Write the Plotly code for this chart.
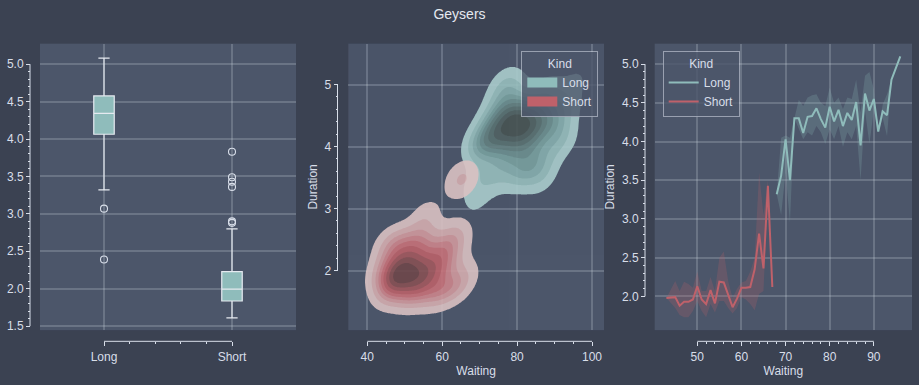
import math
import numpy as np
import plotly.graph_objects as go

# ---------------- data ----------------
kinds = ["Long", "Short"]
kind_pos = [0, 1]
box_q1 = [4.064, 1.836]
box_median = [4.342, 1.995]
box_q3 = [4.576, 2.228]
box_lowerfence = [3.32, 1.61]
box_upperfence = [5.08, 2.80]
long_outliers = [3.07, 2.39]
short_outliers = [3.83, 3.49, 3.43, 3.36, 2.90, 2.88]

# estimated eruptions (waiting -> durations) used for the density panel
short_kde_waiting = [43, 45, 46, 47, 48, 49, 50, 51, 52, 53, 54, 55, 56, 57,
                     58, 59, 60, 61, 62, 63, 64, 65, 66, 67]
short_kde_durations = [
    [1.97], [1.70, 1.83, 2.00, 2.15, 2.45], [1.70, 1.83, 1.90, 2.35],
    [1.65, 1.80, 1.93, 2.00, 2.17, 2.40], [1.67, 1.87, 1.92, 2.00, 2.12, 2.50],
    [1.75, 1.93, 2.08, 2.40], [1.70, 1.95, 2.10, 2.25, 2.45],
    [1.62, 1.80, 1.97, 2.10, 2.30], [1.60, 1.80, 1.90, 2.00, 2.20, 2.45],
    [1.65, 1.87, 2.07, 2.33, 2.55], [1.65, 1.83, 1.92, 2.05, 2.30],
    [1.72, 1.95, 2.15, 2.50, 2.88], [1.70, 1.97, 2.20, 2.60, 2.90],
    [1.65, 1.98, 2.13, 2.40], [1.62, 1.87, 2.00], [1.65, 1.90, 2.08, 2.30],
    [1.70, 2.10, 2.35], [1.68, 2.15, 2.40], [1.72, 2.20, 2.45],
    [1.75, 2.45, 2.65], [1.80, 2.10, 3.45], [1.75, 2.55, 3.55], [3.37, 3.50], [1.95]]
long_kde_waiting = [68, 69, 70, 71, 72, 73, 74, 75, 76, 77, 78, 79, 80, 81, 82,
                    83, 84, 85, 86, 87, 88, 89, 90, 91, 92, 93, 94, 96]
long_kde_durations = [
    [3.32], [3.07, 4.05], [3.60, 3.95, 4.10], [2.38, 4.05, 4.08], [3.50, 4.00, 4.30],
    [3.40, 4.15, 4.30, 4.45], [4.00, 4.10, 4.23, 4.40], [3.75, 4.10, 4.30, 4.55, 4.80],
    [3.60, 4.05, 4.20, 4.35, 4.60, 4.90], [4.00, 4.20, 4.45, 4.63, 5.05],
    [3.70, 4.10, 4.30, 4.40, 4.47, 4.60, 5.00], [3.50, 3.92, 4.20, 4.43, 4.50, 4.90],
    [3.80, 4.13, 4.20, 4.30, 4.45, 4.50, 4.60, 4.77], [3.55, 4.00, 4.10, 4.30, 4.48],
    [3.60, 4.10, 4.20, 4.40, 4.50, 4.63], [3.70, 3.90, 4.20, 4.40, 4.50],
    [3.60, 3.80, 4.10, 4.30, 4.40, 4.60], [3.70, 4.00, 4.30, 4.53],
    [3.50, 4.20, 4.40, 4.50, 4.83], [3.50, 4.40], [3.75, 4.30, 4.42, 4.60, 4.85],
    [3.95, 4.85], [4.20, 4.40, 4.70], [4.13], [4.30, 4.48], [4.07, 4.60], [4.80], [5.10]]

# mean duration per waiting time with confidence band
short_line_x = [43, 45, 46, 47, 48, 49, 50, 51, 52, 53, 54, 55, 56, 57, 58, 59,
                60, 61, 62, 63, 64, 65, 66, 67]
short_line_mean = [1.98, 1.99, 1.88, 1.93, 1.93, 1.96, 2.13, 1.96, 1.90, 2.08,
                   1.91, 2.19, 2.18, 2.03, 1.86, 1.97, 2.11, 2.11, 2.12, 2.35,
                   2.81, 2.36, 3.43, 2.12]
short_line_lo = [1.98, 1.85, 1.76, 1.73, 1.73, 1.81, 1.94, 1.81, 1.73, 1.90,
                 1.79, 1.94, 1.94, 1.85, 1.78, 1.85, 1.99, 1.96, 1.90, 1.82,
                 2.03, 2.07, 3.37, 2.12]
short_line_hi = [1.98, 2.20, 2.07, 2.19, 2.16, 2.11, 2.32, 2.07, 2.07, 2.25,
                 2.07, 2.50, 2.58, 2.20, 1.98, 2.10, 2.18, 2.20, 2.32, 2.50,
                 3.60, 3.05, 3.50, 2.12]
long_line_x = [68, 69, 70, 71, 72, 73, 74, 75, 76, 77, 78, 79, 80, 81, 82, 83,
               84, 85, 86, 87, 88, 89, 90, 91, 92, 93, 94, 96]
long_line_mean = [3.32, 3.56, 4.03, 3.50, 4.30, 4.30, 4.11, 4.32, 4.33, 4.43,
                  4.29, 4.18, 4.45, 4.26, 4.41, 4.20, 4.37, 4.28, 4.51, 3.95,
                  4.62, 4.40, 4.55, 4.13, 4.39, 4.34, 4.80, 5.10]
long_line_lo = [3.32, 3.05, 3.60, 2.95, 4.30, 4.16, 4.03, 4.12, 4.08, 4.20,
                4.12, 3.97, 4.16, 4.03, 4.20, 3.93, 4.12, 4.03, 4.20, 3.50,
                4.40, 3.97, 4.40, 4.13, 4.30, 4.07, 4.80, 5.10]
long_line_hi = [3.32, 4.05, 4.08, 4.05, 4.30, 4.54, 4.46, 4.57, 4.60, 4.61,
                4.50, 4.46, 4.70, 4.50, 4.57, 4.42, 4.57, 4.55, 4.80, 4.38,
                4.85, 4.90, 4.68, 4.13, 4.48, 4.61, 4.80, 5.10]

# ---------------- style ----------------
PAPER = "#3b4252"
PLOTBG = "#4c566a"
TXT = "#d8dee9"
SPINE = "#d8dee9"
GRID = "rgba(216,222,233,0.22)"
C_LONG = "#8fbcbb"
C_SHORT = "#bf616a"
FONT = "Liberation Sans, Arial, sans-serif"
W, H = 919, 385

# ---------------- HUSL helpers (seaborn-like sequential cmap) ----------------
M = [[3.2406, -1.5372, -0.4986], [-0.9689, 1.8758, 0.0415], [0.0557, -0.2040, 1.0570]]
MINV = [[0.4124, 0.3576, 0.1805], [0.2126, 0.7152, 0.0722], [0.0193, 0.1192, 0.9505]]
REFU, REFV, KAPPA, EPS = 0.19784, 0.46834, 903.3, 0.008856


def _maxc(L, Hh):
    sub1 = (L + 16) ** 3 / 1560896
    sub2 = sub1 if sub1 > EPS else L / KAPPA
    h = math.radians(Hh)
    best = float("inf")
    for m1, m2, m3 in M:
        for t in (0, 1):
            top1 = (284517 * m1 - 94839 * m3) * sub2
            top2 = (838422 * m3 + 769860 * m2 + 731718 * m1) * L * sub2 - 769860 * t * L
            bot = (632260 * m3 - 126452 * m2) * sub2 + 126452 * t
            slope, icpt = top1 / bot, top2 / bot
            d = math.sin(h) - slope * math.cos(h)
            if d != 0:
                ln = icpt / d
                if ln >= 0:
                    best = min(best, ln)
    return best


def husl_to_rgb(Hh, S, L):
    if L > 99.9999:
        return (1, 1, 1)
    if L < 1e-5:
        return (0, 0, 0)
    C = _maxc(L, Hh) / 100 * S
    h = math.radians(Hh)
    U, V = C * math.cos(h), C * math.sin(h)
    vu = U / (13 * L) + REFU
    vv = V / (13 * L) + REFV
    Y = ((L + 16) / 116) ** 3 if L > 8 else L / KAPPA
    X = 0 - (9 * Y * vu) / ((vu - 4) * vv - vu * vv)
    Z = (9 * Y - 15 * vv * Y - vv * X) / (3 * vv)
    out = []
    for row in M:
        c = row[0] * X + row[1] * Y + row[2] * Z
        c = 12.92 * c if c <= 0.0031308 else 1.055 * c ** (1 / 2.4) - 0.055
        out.append(min(max(c, 0), 1))
    return out


def rgb_to_husl(r, g, b):
    lin = [c / 12.92 if c <= 0.04045 else ((c + 0.055) / 1.055) ** 2.4 for c in (r, g, b)]
    X, Y, Z = [sum(MINV[i][j] * lin[j] for j in range(3)) for i in range(3)]
    L = 116 * Y ** (1 / 3) - 16 if Y > EPS else Y * KAPPA
    den = X + 15 * Y + 3 * Z
    U = 13 * L * (4 * X / den - REFU)
    V = 13 * L * (9 * Y / den - REFV)
    C = math.hypot(U, V)
    Hh = math.degrees(math.atan2(V, U)) % 360
    return Hh, C / _maxc(L, Hh) * 100, L


def seq_colors(hexc, n):
    r, g, b = [int(hexc[i:i + 2], 16) / 255 for i in (1, 3, 5)]
    h, s, _ = rgb_to_husl(r, g, b)
    xx = np.linspace(-1, 1, int(1.15 * 256))[:256]
    lum = np.linspace(35, 80, 256)
    cols = []
    for t in np.linspace(0, 1, n):
        k = 255 - int(round(t * 255))
        c = husl_to_rgb(h, s * math.cos(xx[k]), lum[k])
        cols.append("rgb(%d,%d,%d)" % tuple(int(round(v * 255)) for v in c))
    return cols


# ---------------- KDE ----------------
def flatten(ws, ds):
    xs, ys = [], []
    for w, d in zip(ws, ds):
        for v in d:
            xs.append(w)
            ys.append(v)
    return np.array(xs, float), np.array(ys, float)


def kde2d(xs, ys, gx, gy):
    n = len(xs)
    cov = np.cov(np.vstack([xs, ys]))
    kc = cov * n ** (-2 / 6)
    inv = np.linalg.inv(kc)
    norm = 1 / (2 * np.pi * np.sqrt(np.linalg.det(kc))) / n
    X, Y = np.meshgrid(gx, gy)
    dx = X[..., None] - xs
    dy = Y[..., None] - ys
    q = inv[0, 0] * dx * dx + 2 * inv[0, 1] * dx * dy + inv[1, 1] * dy * dy
    return norm * np.exp(-0.5 * q).sum(-1)


x2_range = [34.93, 103.2]
y2_range = [1.04, 5.66]
gx = np.linspace(x2_range[0], x2_range[1], 220)
gy = np.linspace(y2_range[0], y2_range[1], 220)
sx, sy = flatten(short_kde_waiting, short_kde_durations)
lx, ly = flatten(long_kde_waiting, long_kde_durations)
ntot = len(sx) + len(lx)
d_short = kde2d(sx, sy, gx, gy) * len(sx) / ntot
d_long = kde2d(lx, ly, gx, gy) * len(lx) / ntot

iso = np.linspace(0.05, 1, 10)
vals = np.sort(np.concatenate([d_short.ravel(), d_long.ravel()]))[::-1]
cum = np.cumsum(vals) / vals.sum()
levels = vals[np.clip(np.searchsorted(cum, 1 - iso), 0, len(vals) - 1)]


def map_levels(d):
    z = np.interp(d, levels, np.arange(len(levels)))
    low = d < levels[0]
    z[low] = d[low] / levels[0] - 1
    return z


def band_scale(cols):
    cs = [[0.0, "rgba(0,0,0,0)"], [0.05, "rgba(0,0,0,0)"]]
    for i, c in enumerate(cols):
        cs.append([0.05 + 0.1 * i, c])
        cs.append([0.05 + 0.1 * (i + 1), c])
    cs.append([1.0, cols[-1]])
    return cs


# ---------------- figure ----------------
fig = go.Figure()

# left: boxes
fig.add_trace(go.Box(
    x=kind_pos, q1=box_q1, median=box_median, q3=box_q3,
    lowerfence=box_lowerfence, upperfence=box_upperfence,
    width=0.16, whiskerwidth=0.55, fillcolor=C_LONG,
    line=dict(color="#e5e9f0", width=1.2), boxpoints=False,
    showlegend=False, hoverinfo="skip", xaxis="x", yaxis="y"))
fig.add_trace(go.Scatter(
    x=[kind_pos[0]] * len(long_outliers) + [kind_pos[1]] * len(short_outliers),
    y=long_outliers + short_outliers, mode="markers",
    marker=dict(symbol="circle-open", size=7, color=TXT, line=dict(width=1.1)),
    showlegend=False, hoverinfo="skip", xaxis="x", yaxis="y"))

# middle: kde (Long drawn first, Short on top)
for d, col in ((d_long, C_LONG), (d_short, C_SHORT)):
    fig.add_trace(go.Contour(
        x=gx, y=gy, z=map_levels(d),
        contours=dict(start=0, end=9, size=1, coloring="fill", showlines=False),
        line=dict(width=0, smoothing=0), colorscale=band_scale(seq_colors(col, 9)),
        showscale=False, opacity=0.9, hoverinfo="skip",
        xaxis="x2", yaxis="y2", showlegend=False))
for name, col in (("Long", C_LONG), ("Short", C_SHORT)):
    fig.add_trace(go.Scatter(
        x=[None], y=[None], mode="lines",
        line=dict(width=10, color=col), name=name, legend="legend",
        xaxis="x2", yaxis="y2"))

# right: lines with bands
for xs, mn, lo, hi, col, rgba, name in (
        (long_line_x, long_line_mean, long_line_lo, long_line_hi, C_LONG,
         "rgba(143,188,187,0.22)", "Long"),
        (short_line_x, short_line_mean, short_line_lo, short_line_hi, C_SHORT,
         "rgba(191,97,106,0.22)", "Short")):
    fig.add_trace(go.Scatter(x=xs, y=lo, mode="lines", line=dict(width=0),
                             showlegend=False, hoverinfo="skip", xaxis="x3", yaxis="y3"))
    fig.add_trace(go.Scatter(x=xs, y=hi, mode="lines", line=dict(width=0),
                             fill="tonexty", fillcolor=rgba, showlegend=False,
                             hoverinfo="skip", xaxis="x3", yaxis="y3"))
    fig.add_trace(go.Scatter(x=xs, y=mn, mode="lines", line=dict(color=col, width=2),
                             name=name, legend="legend2", xaxis="x3", yaxis="y3"))

# ---------------- axes ----------------
ydom = [1 - 332.7 / H, 1 - 44 / H]
x_axis_pos = 1 - 344 / H


def axis(rng, dtick, minor_vals, dom=None, pos=None, title=None, **kw):
    d = dict(range=rng, showgrid=True, gridcolor=GRID, gridwidth=1.5,
             zeroline=False, showline=False, ticks="outside", ticklen=4,
             tickwidth=1, tickcolor=SPINE, tickfont=dict(size=12, color=TXT),
             anchor="free", position=pos, fixedrange=True,
             minor=dict(ticks="outside", ticklen=2, tickwidth=1, tickcolor=SPINE,
                        showgrid=False, tickmode="array", tickvals=list(minor_vals)))
    if dtick is not None:
        d.update(tick0=0, dtick=dtick, tickmode="linear")
    if dom is not None:
        d["domain"] = dom
    if title:
        d["title"] = dict(text=title, font=dict(size=12, color=TXT), standoff=3)
    d.update(kw)
    return d


def minors(a, b, step):
    return [round(v, 4) for v in np.arange(a, b + 1e-9, step)]


y1_ticks = [1.5, 5.0]
x2_ticks = [40, 100]
y2_ticks = [2, 5]
x3_ticks = [50, 90]
y3_ticks = [2.0, 5.0]

fig.update_layout(
    xaxis=axis([-0.5, 1.5], None, minors(0, 1, 0.2), dom=[40 / W, 296 / W],
               pos=x_axis_pos, tickmode="array", tickvals=kind_pos, ticktext=kinds),
    yaxis=axis([1.447, 5.274], 0.5, minors(*y1_ticks, 0.1), dom=ydom, pos=30 / W,
               tickformat=".1f"),
    xaxis2=axis(x2_range, 20, minors(*x2_ticks, 5), dom=[348.3 / W, 604 / W],
                pos=x_axis_pos, title="Waiting"),
    yaxis2=axis(y2_range, 1, minors(*y2_ticks, 0.2), dom=ydom, pos=337.5 / W,
                title="Duration"),
    xaxis3=axis([40.35, 98.65], 10, minors(*x3_ticks, 2), dom=[654.7 / W, 912 / W],
                pos=x_axis_pos, title="Waiting"),
    yaxis3=axis([1.564, 5.265], 0.5, minors(*y3_ticks, 0.1), dom=ydom, pos=645 / W,
                title="Duration", tickformat=".1f"),
)

# trimmed spines
shapes = []
for yref, px, (a, b) in (("y", 30, y1_ticks), ("y2", 337.5, y2_ticks), ("y3", 645, y3_ticks)):
    shapes.append(dict(type="line", xref="paper", yref=yref, x0=px / W, x1=px / W,
                       y0=a, y1=b, line=dict(color=SPINE, width=1)))
for xref, (a, b) in (("x", (kind_pos[0], kind_pos[-1])), ("x2", x2_ticks), ("x3", x3_ticks)):
    shapes.append(dict(type="line", xref=xref, yref="paper", x0=a, x1=b,
                       y0=x_axis_pos, y1=x_axis_pos, line=dict(color=SPINE, width=1)))

legend_common = dict(
    bgcolor="rgba(76,86,106,0.8)", bordercolor="rgba(216,222,233,0.55)",
    borderwidth=1, font=dict(size=12, color=TXT, family=FONT),
    title=dict(text="Kind", side="top center", font=dict(size=12, color=TXT)),
    yanchor="top", y=1 - 51.7 / H, tracegroupgap=2, itemwidth=30,
    traceorder="normal")

fig.update_layout(
    width=W, height=H, autosize=False,
    margin=dict(l=0, r=0, t=0, b=0),
    paper_bgcolor=PAPER, plot_bgcolor=PLOTBG,
    font=dict(family=FONT, color=TXT, size=12),
    title=dict(text="Geysers", x=0.5, xanchor="center", y=1 - 14 / H,
               yanchor="middle", font=dict(size=14, color="#e5e9f0")),
    shapes=shapes,
    legend=dict(legend_common, x=598.3 / W, xanchor="right"),
    legend2=dict(legend_common, x=662.7 / W, xanchor="left"),
    showlegend=True,
)

fig.write_html("out.html", config={"displayModeBar": False},
               post_script="document.body.style.margin='0';")
